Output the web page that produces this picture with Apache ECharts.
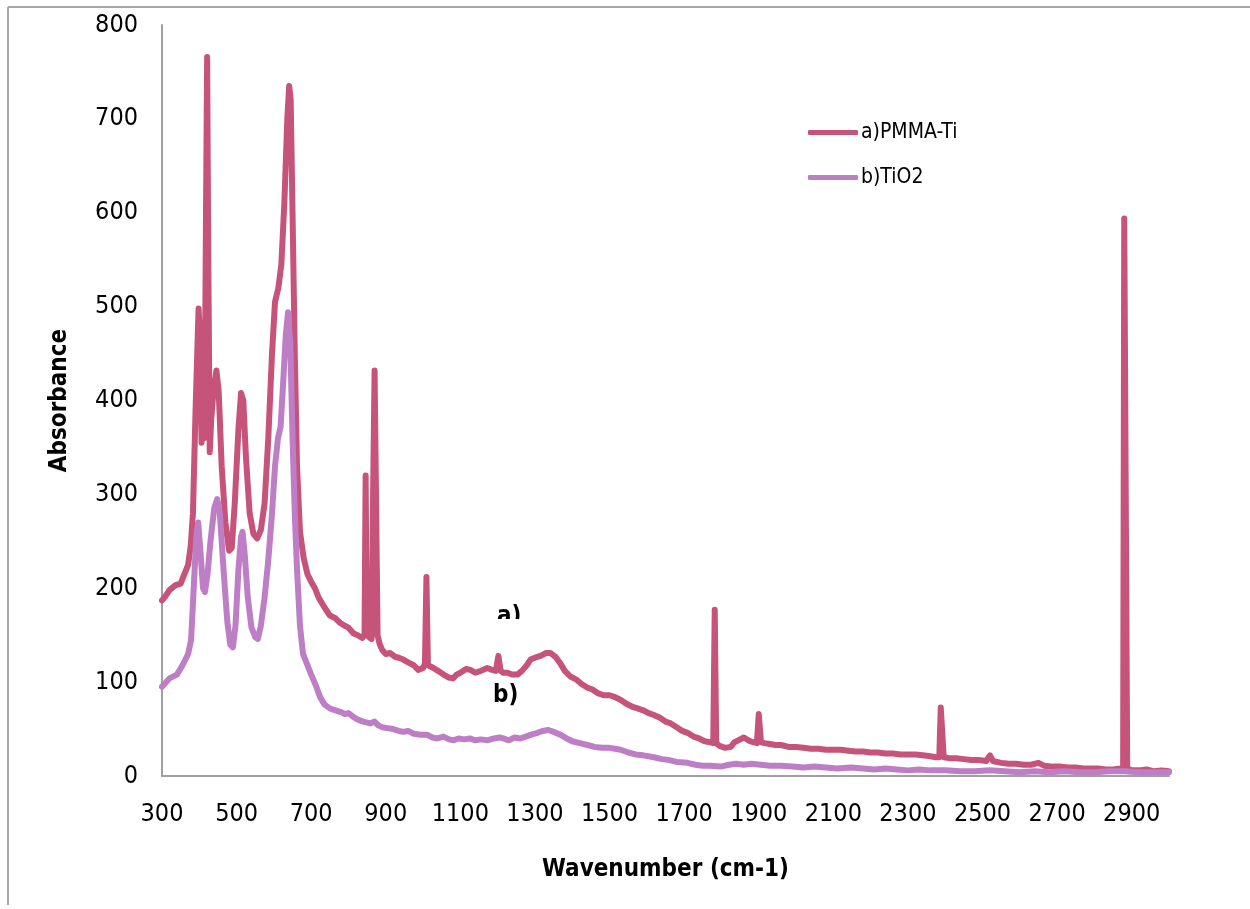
<!DOCTYPE html>
<html>
<head>
<meta charset="utf-8">
<script src="https://cdn.jsdelivr.net/npm/echarts@6/dist/echarts.min.js"></script>
<style>
html,body{margin:0;padding:0;background:#fff;}
#chart{width:1250px;height:909px;}
</style>
</head>
<body>
<div id="chart"></div>
<script>
// ---- data ----
var xTickLabels = [300, 500, 700, 900, 1100, 1300, 1500, 1700, 1900, 2100, 2300, 2500, 2700, 2900];
var seriesNames = ['a)PMMA-Ti', 'b)TiO2'];

var pmmaWavenumber = [300,310,320,335,350,360,370,377,383,390,398,402,406,410,414,418,421,424,428,432,438,446,452,460,470,480,487,495,505,512,518,525,535,545,555,565,575,585,595,603,612,620,628,636,641,645,650,656,662,670,680,690,700,710,720,735,750,765,778,790,800,813,825,837,843,846,849,855,862,866,870,874,878,884,891,900,912,925,935,947,960,975,987,1000,1005,1009,1013,1028,1040,1055,1068,1081,1090,1100,1115,1127,1140,1155,1172,1185,1195,1202,1208,1215,1226,1240,1253,1265,1278,1288,1300,1315,1330,1342,1355,1368,1380,1395,1410,1425,1441,1455,1470,1484,1500,1515,1530,1545,1560,1575,1590,1605,1619,1635,1650,1664,1680,1695,1709,1725,1740,1755,1770,1778,1782,1786,1795,1810,1825,1835,1845,1860,1872,1885,1895,1900,1906,1915,1930,1945,1960,1980,2000,2020,2040,2060,2080,2100,2120,2140,2160,2180,2200,2220,2240,2260,2280,2300,2320,2340,2360,2375,2384,2388,2392,2396,2410,2430,2450,2470,2490,2510,2520,2528,2550,2570,2590,2610,2630,2650,2665,2690,2710,2730,2750,2770,2790,2810,2830,2850,2870,2877,2880,2884,2888,2900,2920,2940,2960,2980,3000];
var pmmaAbsorbance = [187,192,198,203,205,215,225,245,280,390,498,470,355,420,360,600,766,560,345,380,410,432,410,330,270,240,243,290,370,408,400,340,280,258,253,262,290,360,450,505,520,545,610,700,735,720,600,450,330,260,232,215,207,200,190,180,171,168,163,160,158,152,150,147,150,320,150,148,146,300,432,432,150,140,134,130,131,127,126,124,121,118,113,115,120,212,118,115,112,108,105,104,108,110,114,113,110,112,115,113,112,128,112,110,110,108,108,112,118,124,126,128,131,131,127,120,112,106,103,98,94,92,88,86,86,84,81,77,74,72,70,67,65,62,58,56,52,48,46,42,40,37,36,35,177,35,32,30,31,36,38,41,38,36,35,66,36,35,34,33,33,31,31,30,29,29,28,28,28,27,26,26,25,25,24,24,23,23,23,22,21,20,20,73,73,20,19,19,18,17,17,16,22,16,14,13,13,12,12,14,11,10,10,9,9,8,8,8,7,7,8,8,594,594,8,6,6,7,5,6,5];

var tio2Wavenumber = [300,320,340,355,370,378,385,392,397,403,410,415,422,430,440,448,455,465,475,483,490,497,505,512,516,522,530,540,550,557,565,575,585,595,603,611,618,625,632,638,644,650,656,662,670,678,690,700,712,724,736,750,765,780,790,800,813,825,840,858,870,880,890,904,920,935,947,960,975,993,1010,1025,1038,1055,1070,1081,1095,1110,1125,1140,1155,1172,1190,1205,1215,1230,1245,1261,1275,1290,1307,1320,1336,1350,1368,1385,1400,1420,1441,1460,1480,1500,1515,1530,1550,1570,1590,1619,1640,1660,1680,1709,1730,1750,1770,1798,1820,1840,1860,1880,1905,1930,1960,1990,2020,2050,2080,2110,2147,2180,2210,2240,2270,2300,2330,2360,2400,2440,2480,2520,2560,2600,2640,2680,2720,2760,2800,2840,2880,2920,2960,3000];
var tio2Absorbance = [95,104,108,118,130,145,200,255,270,240,200,196,215,250,285,295,280,220,165,140,137,160,220,255,260,235,190,158,148,146,160,190,230,280,330,360,372,420,470,494,460,360,280,220,160,130,118,108,97,84,76,72,70,68,66,67,63,60,58,56,58,54,52,51,50,48,47,48,45,44,44,41,40,42,39,38,40,39,40,38,39,38,40,41,40,38,41,40,42,44,46,48,49,47,44,40,37,35,33,31,30,30,29,28,25,23,22,20,18,17,15,14,12,11,11,10,12,13,12,13,12,11,11,10,9,10,9,8,9,8,7,8,7,6,7,6,6,5,5,6,5,4,5,4,5,4,4,5,5,4,4,4];

function pairs(xs, ys) {
  var out = [];
  for (var i = 0; i < xs.length; i++) out.push([xs[i], ys[i]]);
  return out;
}

var FONT = "'DejaVu Sans Condensed', 'DejaVu Sans', sans-serif";
var chart = echarts.init(document.getElementById('chart'), null, {renderer: 'canvas'});
chart.setOption({
  animation: false,
  backgroundColor: '#ffffff',
  grid: {left: 162, right: 81, top: 25, bottom: 133, containLabel: false},
  legend: {
    orient: 'vertical',
    left: 803,
    top: 117,
    itemWidth: 50,
    itemHeight: 5,
    itemGap: 24,
    icon: 'roundRect',
    textStyle: {fontFamily: FONT, fontSize: 21, color: '#000', padding: [0, 0, 0, -2]},
    data: seriesNames
  },
  xAxis: {
    type: 'value',
    min: 300,
    max: 3000,
    name: 'Wavenumber (cm-1)',
    nameLocation: 'middle',
    nameGap: 82,
    nameTextStyle: {fontFamily: FONT, fontSize: 24, fontWeight: 'bold', color: '#000'},
    axisLine: {show: true, lineStyle: {color: '#a0a0a0', width: 2}},
    axisTick: {show: false},
    splitLine: {show: false},
    axisLabel: {
      customValues: xTickLabels,
      formatter: function (v) { return String(v); },
      fontFamily: FONT, fontSize: 25, color: '#000', margin: 26
    }
  },
  yAxis: {
    type: 'value',
    min: 0,
    max: 800,
    interval: 100,
    name: 'Absorbance',
    nameLocation: 'middle',
    nameGap: 90,
    nameTextStyle: {fontFamily: FONT, fontSize: 24, fontWeight: 'bold', color: '#000'},
    axisLine: {show: true, lineStyle: {color: '#a0a0a0', width: 2}},
    axisTick: {show: false},
    splitLine: {show: false},
    axisLabel: {fontFamily: FONT, fontSize: 25, color: '#000', margin: 24}
  },
  series: [
    {
      name: seriesNames[0],
      type: 'line',
      symbol: 'none',
      clip: true,
      data: pairs(pmmaWavenumber, pmmaAbsorbance),
      itemStyle: {color: '#C6547A'},
      lineStyle: {color: '#C6547A', width: 6, join: 'round', cap: 'round'}
    },
    {
      name: seriesNames[1],
      type: 'line',
      symbol: 'none',
      clip: true,
      data: pairs(tio2Wavenumber, tio2Absorbance),
      itemStyle: {color: '#BD7EC6'},
      lineStyle: {color: '#BD7EC6', width: 6, join: 'round', cap: 'round'}
    }
  ],
  graphic: [
    {type: 'line', shape: {x1: 8, y1: 7, x2: 1250, y2: 7}, style: {stroke: '#a8a8a8', lineWidth: 2}, silent: true},
    {type: 'line', shape: {x1: 8, y1: 7, x2: 8, y2: 905}, style: {stroke: '#a8a8a8', lineWidth: 2}, silent: true},
    {type: 'text', left: 497, top: 605, z: 100, style: {text: 'a)', fontFamily: FONT, fontSize: 24, fontWeight: 'bold', fill: '#000'}},
    {type: 'rect', shape: {x: 490, y: 619, width: 40, height: 14}, style: {fill: '#fff'}, z: 101, silent: true},
    {type: 'text', left: 493, top: 684, z: 100, style: {text: 'b)', fontFamily: FONT, fontSize: 24, fontWeight: 'bold', fill: '#000'}}
  ]
});
</script>
</body>
</html>
